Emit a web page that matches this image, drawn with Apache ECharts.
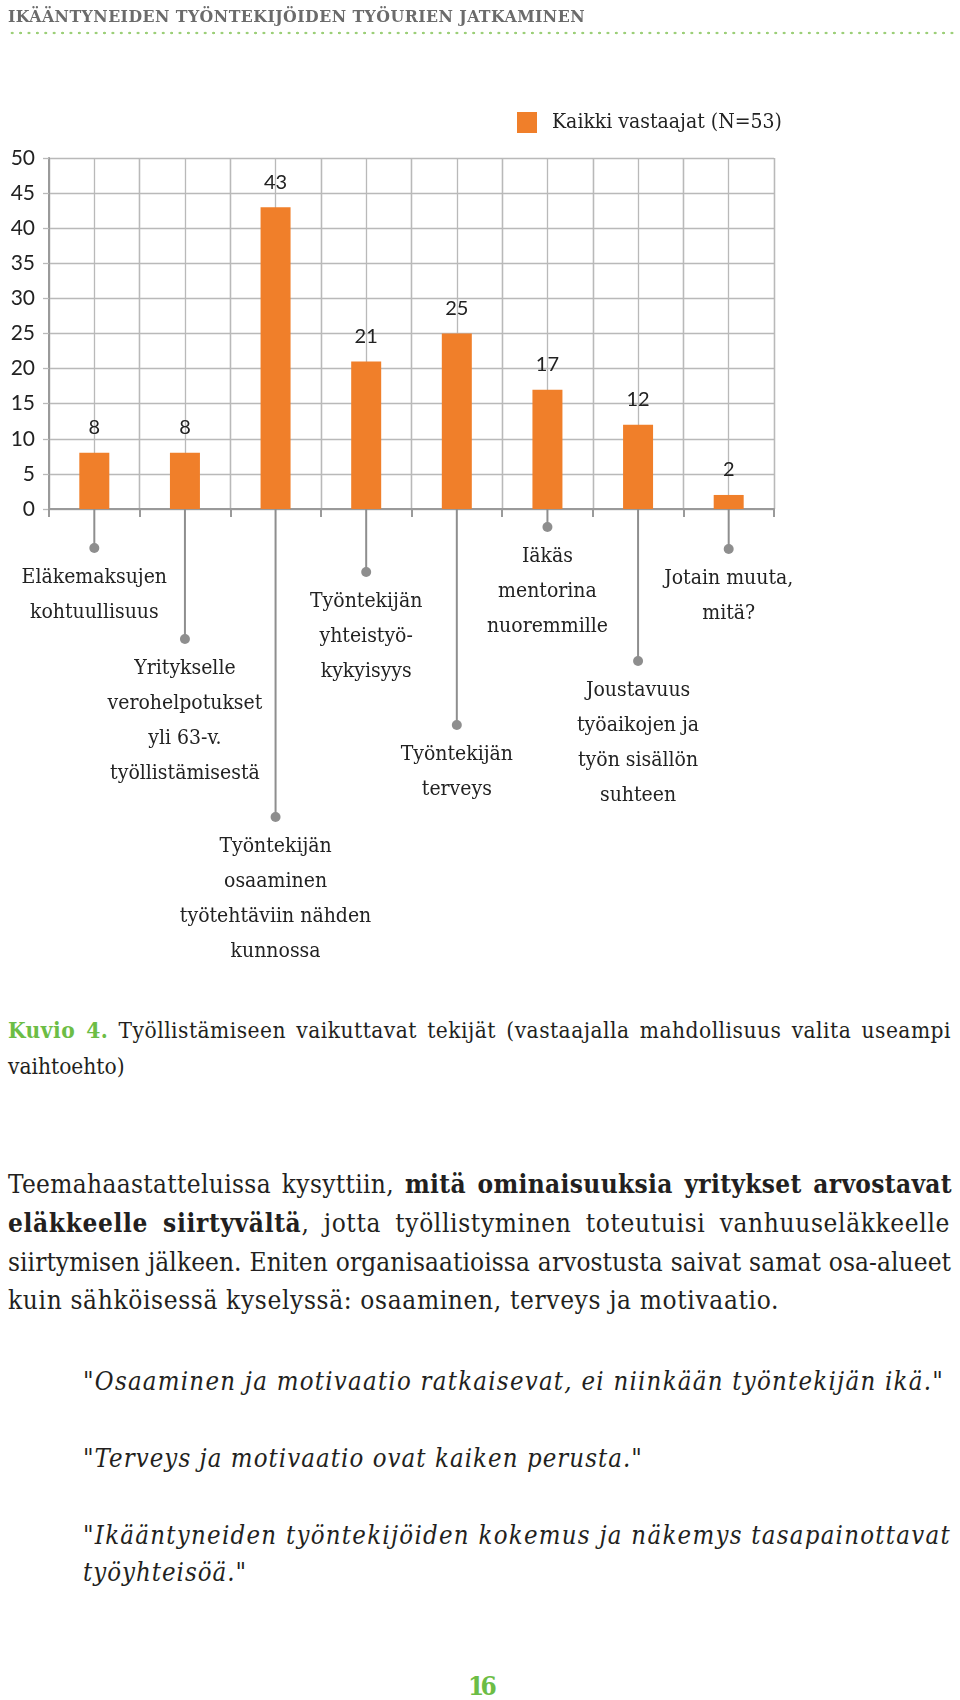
<!DOCTYPE html>
<html>
<head>
<meta charset="utf-8">
<script src="https://cdn.jsdelivr.net/npm/echarts@6/dist/echarts.min.js"></script>
<style>
html,body{margin:0;padding:0;background:#fff;}
#page{position:relative;width:960px;height:1700px;overflow:hidden;background:#fff;}
#chart{position:absolute;left:0;top:0;width:960px;height:1000px;}
.t{position:absolute;white-space:nowrap;line-height:1;color:#231f20;
   font-family:'DejaVu Serif Condensed','DejaVu Serif',serif;}
.b{font-weight:bold;}
.i{font-style:italic;}
.g{color:#6cbd45;font-weight:bold;}
#dots{position:absolute;left:8px;top:31px;width:948px;height:4px;
  background-image:radial-gradient(circle,#9ccf78 1.1px,rgba(255,255,255,0) 1.6px);
  background-size:8.4px 4px;background-repeat:repeat-x;}
</style>
</head>
<body>
<div id="page">
  <div id="chart"></div>

  <div class="t b" style="left:8px;font-size:17.5px;color:#6b6b6b" data-b="23" data-w="577">IKÄÄNTYNEIDEN TYÖNTEKIJÖIDEN TYÖURIEN JATKAMINEN</div>
  <div id="dots"></div>

  <div class="t" style="left:8px;font-size:22.5px" data-b="1038" data-w="943" data-j="1"><span class="g">Kuvio 4.</span> Työllistämiseen vaikuttavat tekijät (vastaajalla mahdollisuus valita useampi</div>
  <div class="t" style="left:8px;font-size:22.5px" data-b="1074">vaihtoehto)</div>

  <div class="t" style="left:8px;font-size:26px" data-b="1193" data-w="944" data-j="1">Teemahaastatteluissa kysyttiin, <span class="b">mitä ominaisuuksia yritykset arvostavat</span></div>
  <div class="t" style="left:8px;font-size:26px" data-b="1232" data-w="942" data-j="1"><span class="b">eläkkeelle siirtyvältä</span>, jotta työllistyminen toteutuisi vanhuuseläkkeelle</div>
  <div class="t" style="left:8px;font-size:26px" data-b="1271" data-w="943" data-j="1">siirtymisen jälkeen. Eniten organisaatioissa arvostusta saivat samat osa-alueet</div>
  <div class="t" style="left:8px;font-size:26px" data-b="1309" data-w="771">kuin sähköisessä kyselyssä: osaaminen, terveys ja motivaatio.</div>

  <div class="t i" style="left:83px;font-size:25.5px" data-b="1391" data-w="861">"Osaaminen ja motivaatio ratkaisevat, ei niinkään työntekijän ikä."</div>
  <div class="t i" style="left:83px;font-size:25.5px" data-b="1468" data-w="560">"Terveys ja motivaatio ovat kaiken perusta."</div>
  <div class="t i" style="left:83px;font-size:25.5px" data-b="1545" data-w="868">"Ikääntyneiden työntekijöiden kokemus ja näkemys tasapainottavat</div>
  <div class="t i" style="left:83px;font-size:25.5px" data-b="1582" data-w="164">työyhteisöä."</div>

  <div class="t g" style="left:468px;font-size:26px" data-b="1695" data-w="25">16</div>
</div>

<script>
// ---------- data ----------
const categories = [
  'Eläkemaksujen\nkohtuullisuus',
  'Yritykselle\nverohelpotukset\nyli 63-v.\ntyöllistämisestä',
  'Työntekijän\nosaaminen\ntyötehtäviin nähden\nkunnossa',
  'Työntekijän\nyhteistyö-\nkykyisyys',
  'Työntekijän\nterveys',
  'Iäkäs\nmentorina\nnuoremmille',
  'Joustavuus\ntyöaikojen ja\ntyön sisällön\nsuhteen',
  'Jotain muuta,\nmitä?'
];
const values = [8, 8, 43, 21, 25, 17, 12, 2];
const seriesName = 'Kaikki vastaajat (N=53)';
const yMin = 0, yMax = 50, yInterval = 5;

// ---------- layout (pixels, not data) ----------
const leaderDrop = [39, 130, 308, 63, 216, 18, 152, 40];

const SLAB = "'DejaVu Serif Condensed','DejaVu Serif',serif";
const SANS = "Lato, 'Open Sans', sans-serif";
const GRID = '#b9b9b9';
const AXIS = '#9a9a9a';

const chart = echarts.init(document.getElementById('chart'), null, {renderer: 'canvas'});
chart.setOption({
  animation: false,
  legend: {
    data: [seriesName],
    left: 517, top: 112, padding: 0,
    icon: 'rect', itemWidth: 20, itemHeight: 21,
    textStyle: {fontSize: 21, color: '#222', fontFamily: SLAB, padding: [0, 0, 0, 10]}
  },
  grid: {left: 49, top: 158, width: 725, height: 351, containLabel: false},
  xAxis: [{
    type: 'category', data: categories, boundaryGap: true,
    axisLine: {show: true, lineStyle: {color: AXIS, width: 2}},
    axisTick: {show: true, interval: 0, length: 8, lineStyle: {color: AXIS, width: 2}},
    axisLabel: {show: false},
    splitLine: {show: true, interval: 0, lineStyle: {color: GRID, width: 1.3}}
  }, {
    type: 'value', min: 0, max: categories.length * 2, interval: 1, position: 'bottom',
    axisLine: {show: false}, axisTick: {show: false}, axisLabel: {show: false},
    splitLine: {show: true, lineStyle: {color: GRID, width: 1.3}}
  }],
  yAxis: {
    type: 'value', min: yMin, max: yMax, interval: yInterval,
    axisLine: {show: true, lineStyle: {color: AXIS, width: 2}},
    axisTick: {show: true, length: 6, lineStyle: {color: GRID, width: 1.3}},
    axisLabel: {fontSize: 21, color: '#222', fontFamily: SANS, margin: 14},
    splitLine: {show: true, lineStyle: {color: GRID, width: 1.3}}
  },
  series: [{
    name: seriesName, type: 'bar', data: values, xAxisIndex: 0,
    barWidth: 30, itemStyle: {color: '#f07f2a'}, z: 3,
    label: {show: true, position: 'top', distance: 15, fontSize: 20, color: '#222', fontFamily: SANS}
  }, {
    type: 'custom', xAxisIndex: 0, yAxisIndex: 0, clip: false, silent: true, z: 2,
    data: categories.map((c, i) => [i, 0]),
    renderItem: function (params, api) {
      const idx = api.value(0);
      const p = api.coord([idx, 0]);
      const d = leaderDrop[idx];
      return {
        type: 'group',
        children: [
          {type: 'line', shape: {x1: p[0], y1: p[1], x2: p[0], y2: p[1] + d},
           style: {stroke: '#8e8e8e', lineWidth: 2}},
          {type: 'circle', shape: {cx: p[0], cy: p[1] + d, r: 5}, style: {fill: '#8e8e8e'}},
          {type: 'text', x: p[0], y: p[1] + d + 12,
           style: {text: categories[idx], align: 'center', verticalAlign: 'top',
                   fontSize: 21, lineHeight: 35, fill: '#222', fontFamily: SLAB}}
        ]
      };
    }
  }]
});

// ---------- text line placement ----------
function placeText() {
  document.querySelectorAll('.t').forEach(el => {
    const fs = parseFloat(getComputedStyle(el).fontSize);
    if (el.dataset.b) el.style.top = (parseFloat(el.dataset.b) - 0.846 * fs) + 'px';
    if (el.dataset.w) {
      el.style.letterSpacing = '0px';
      el.style.wordSpacing = '0px';
      const w = el.getBoundingClientRect().width;
      const txt = el.textContent;
      const extra = parseFloat(el.dataset.w) - w;
      const spaces = (txt.match(/ /g) || []).length;
      if (el.dataset.j && spaces > 0 && extra > 0) {
        // justified line: spread partly in word gaps, partly in letters
        el.style.letterSpacing = (extra * 0.6 / txt.length) + 'px';
        el.style.wordSpacing = (extra * 0.4 / spaces) + 'px';
      } else {
        el.style.letterSpacing = (extra / txt.length) + 'px';
      }
    }
  });
}
placeText();
</script>
</body>
</html>
